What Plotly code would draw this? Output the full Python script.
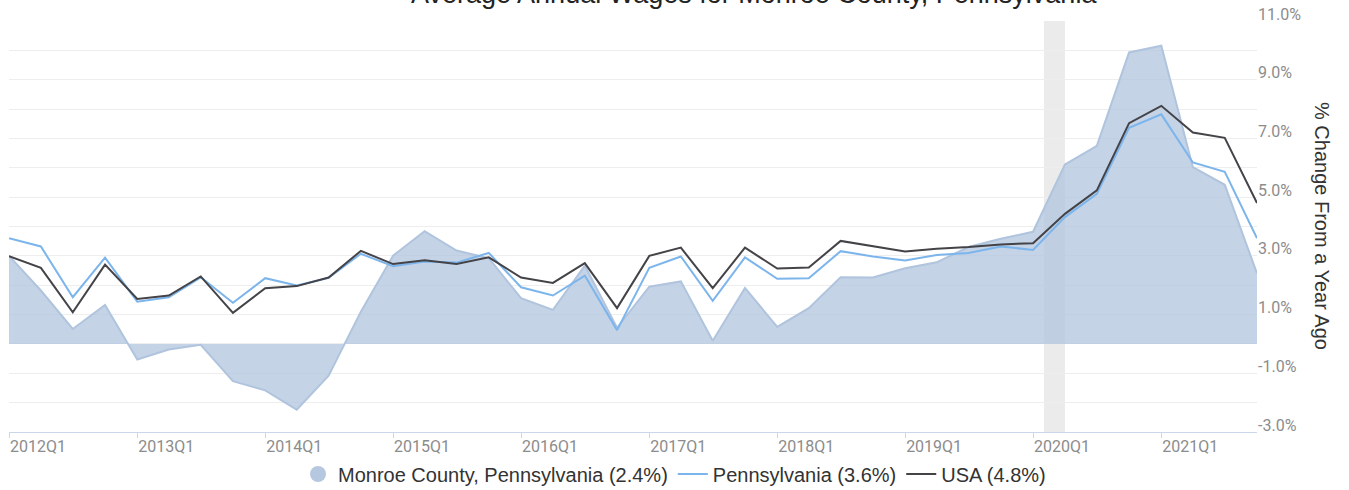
import pandas as pd
import plotly.graph_objects as go

# ---- data ----
quarters = [
    "2012Q1", "2012Q2", "2012Q3", "2012Q4",
    "2013Q1", "2013Q2", "2013Q3", "2013Q4",
    "2014Q1", "2014Q2", "2014Q3", "2014Q4",
    "2015Q1", "2015Q2", "2015Q3", "2015Q4",
    "2016Q1", "2016Q2", "2016Q3", "2016Q4",
    "2017Q1", "2017Q2", "2017Q3", "2017Q4",
    "2018Q1", "2018Q2", "2018Q3", "2018Q4",
    "2019Q1", "2019Q2", "2019Q3", "2019Q4",
    "2020Q1", "2020Q2", "2020Q3", "2020Q4",
    "2021Q1", "2021Q2", "2021Q3", "2021Q4",
]
monroe = [
    3.00, 1.82, 0.51, 1.33,
    -0.53, -0.19, -0.03, -1.27,
    -1.58, -2.24, -1.08, 1.10,
    3.01, 3.84, 3.18, 2.92,
    1.56, 1.16, 2.67, 0.55,
    1.95, 2.13, 0.11, 1.91,
    0.58, 1.22, 2.27, 2.26,
    2.58, 2.78, 3.30, 3.58,
    3.82, 6.11, 6.75, 9.93,
    10.16, 6.02, 5.42, 2.40,
]
pennsylvania = [
    3.60, 3.32, 1.59, 2.94,
    1.44, 1.59, 2.27, 1.40,
    2.24, 1.99, 2.25, 3.07,
    2.65, 2.81, 2.77, 3.10,
    1.93, 1.65, 2.33, 0.47,
    2.59, 2.98, 1.47, 2.95,
    2.22, 2.24, 3.16, 2.98,
    2.84, 3.03, 3.10, 3.32,
    3.20, 4.32, 5.11, 7.36,
    7.82, 6.18, 5.86, 3.60,
]
usa = [
    2.99, 2.59, 1.08, 2.70,
    1.53, 1.65, 2.30, 1.06,
    1.90, 1.97, 2.26, 3.17,
    2.72, 2.85, 2.72, 2.95,
    2.26, 2.08, 2.75, 1.22,
    3.00, 3.28, 1.90, 3.28,
    2.57, 2.60, 3.51, 3.34,
    3.15, 3.24, 3.30, 3.39,
    3.43, 4.43, 5.23, 7.52,
    8.11, 7.20, 7.02, 4.80,
]
x_tick_labels = ["2012Q1", "2013Q1", "2014Q1", "2015Q1", "2016Q1",
                 "2017Q1", "2018Q1", "2019Q1", "2020Q1", "2021Q1"]
y_tick_values = [-3, -1, 1, 3, 5, 7, 9, 11]
y_tick_labels = ["-3.0%", "-1.0%", "1.0%", "3.0%", "5.0%", "7.0%", "9.0%", "11.0%"]
recession = ("2020-02-01", "2020-04-01")

title_text = "Average Annual Wages for Monroe County, Pennsylvania"
y_title = "% Change From a Year Ago"
names = ["Monroe County, Pennsylvania (2.4%)", "Pennsylvania (3.6%)", "USA (4.8%)"]

# ---- build ----
dates = [pd.Period(q, freq="Q").start_time for q in quarters]
tick_dates = [pd.Period(q, freq="Q").start_time for q in x_tick_labels]

AREA_LINE = "rgb(176,196,222)"
AREA_FILL = "rgba(176,196,222,0.75)"
PA_COLOR = "#7cb5ec"
US_COLOR = "#434348"

fig = go.Figure()
fig.add_trace(go.Scatter(
    x=dates, y=monroe, mode="lines", fill="tozeroy",
    line=dict(color=AREA_LINE, width=2), fillcolor=AREA_FILL,
    showlegend=False, name=names[0]))
# legend-only entry with a circle symbol for the area series
fig.add_trace(go.Scatter(
    x=[None], y=[None], mode="markers", name=names[0],
    marker=dict(symbol="circle", size=20, color="#b6c8df")))
fig.add_trace(go.Scatter(
    x=dates, y=pennsylvania, mode="lines", name=names[1],
    line=dict(color=PA_COLOR, width=2)))
fig.add_trace(go.Scatter(
    x=dates, y=usa, mode="lines", name=names[2],
    line=dict(color=US_COLOR, width=2)))

fig.add_shape(type="rect", xref="x", yref="paper",
              x0=recession[0], x1=recession[1], y0=0, y1=1,
              fillcolor="#ebebeb", line=dict(width=0), layer="below")

fig.add_annotation(text=title_text, xref="paper", yref="paper",
                   x=(754 - 9) / 1248, y=(432 - 11) / 411,
                   xanchor="center", yanchor="bottom", showarrow=False,
                   font=dict(family="Liberation Sans, Arial", size=27, color="#222222"))
fig.add_annotation(text=y_title, xref="paper", yref="paper",
                   x=(1322 - 9) / 1248, y=(432 - 226) / 411, textangle=90,
                   xanchor="center", yanchor="middle", showarrow=False,
                   font=dict(family="Liberation Sans, Arial", size=20, color="#333333"))

fig.update_layout(
    width=1349, height=490,
    margin=dict(l=9, r=92, t=21, b=58, pad=0, autoexpand=False),
    paper_bgcolor="white", plot_bgcolor="white",
    showlegend=True,
    legend=dict(orientation="h", xref="container", yref="container",
                x=0.5, xanchor="center", y=(490 - 474) / 490, yanchor="middle",
                font=dict(family="Liberation Sans, Arial", size=20, color="#333333"),
                itemwidth=30, bgcolor="rgba(0,0,0,0)"),
    xaxis=dict(
        type="date", range=[dates[0], dates[-1]], automargin=False,
        tickmode="array", tickvals=tick_dates, ticktext=x_tick_labels,
        ticks="outside", ticklen=5, tickcolor="#ccd6eb", tickwidth=1,
        ticklabelposition="outside right",
        showline=True, linecolor="#ccd6eb", linewidth=1,
        showgrid=False, zeroline=False,
        tickfont=dict(family="Roboto", size=16, color="#8c8c8c"),
    ),
    yaxis=dict(
        side="right", range=[-3, 11], automargin=False,
        tickmode="array", tickvals=y_tick_values, ticktext=y_tick_labels,
        showgrid=True, gridcolor="#eeeeee", gridwidth=1,
        minor=dict(tickmode="array", tickvals=list(range(-3, 12)),
                   showgrid=True, gridcolor="#eeeeee", gridwidth=1),
        zeroline=False, showline=False, ticks="",
        ticklabelshift=-7,
        tickfont=dict(family="Roboto", size=16, color="#8c8c8c"),
    ),
)

# the page's default 8px body margin would offset the whole chart
fig.write_html("out.html", config={"displayModeBar": False},
               post_script="document.body.style.margin='0';document.body.style.overflow='hidden';")
